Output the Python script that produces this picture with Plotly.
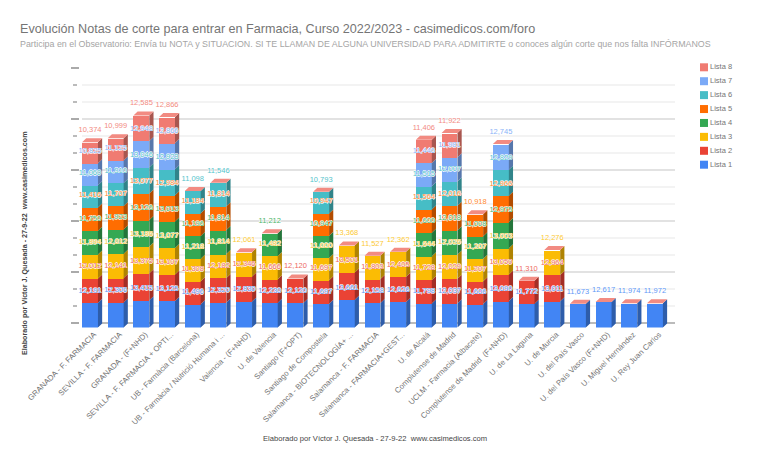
import plotly.graph_objects as go

categories = ["GRANADA - F. FARMACIA", "SEVILLA - F. FARMACIA", "GRANADA - (F+NHD)", "SEVILLA - F. FARMACIA + OPTI...",
              "UB - Farmàcia (Barcelona)", "UB - Farmàcia / Nutrició Humana i ...", "Valencia - (F+NHD)", "U. de Valencia",
              "Santiago (F+OPT)", "Santiago de Compostela", "Salamanca - BIOTECNOLOGÍA+ ...", "Salamanca - F. FARMACIA",
              "Salamanca - FARMACIA+GEST...", "U. de Alcalá", "Complutense de Madrid", "UCLM - Farmacia (Albacete)",
              "Complutense de Madrid  (F+NHD)", "U. de La Laguna", "U. de Murcia", "U. del País Vasco",
              "U. del País Vasco (F+NHD)", "U. Miguel Hernández", "U. Rey Juan Carlos"]
lista1 = [12191, 12306, 13415, 13125, 11496, 12320, 12830, 12230, 12120, 11697, 13661, 12158, 12626, 11798, 12037, 11606, 13090, 11772, 13011, 11673, 12617, 11974, 11972]
lista2 = [12012, 12141, 13375, 13107, 11308, 12182, 12346, 11666, 12120, 11697, 13501, 11803, 12405, 11728, 12029, 11207, 13050, 11310, 12964, None, None, None, None]
lista3 = [11894, 12012, 13186, 13077, 11218, 11814, 12061, 11482, None, 11000, 13368, 11527, 12362, 11644, 12026, 11207, 13003, None, 12276, None, None, None, None]
lista4 = [11750, 11923, 13126, 13013, 11196, 11814, None, 11212, None, 10947, None, None, None, 11600, 12018, 11008, 12975, None, None, None, None, None, None]
lista5 = [11416, 11707, 13077, 12984, 11184, 11814, None, None, None, 10947, None, None, None, 11564, 12016, 10918, 12966, None, None, None, None, None, None]
lista6 = [11060, 11310, 13046, 12923, 11098, 11546, None, None, None, 10793, None, None, None, 11515, 12007, None, 12829, None, None, None, None, None, None]
lista7 = [10825, 11125, 12948, 12866, None, None, None, None, None, None, None, None, None, 11446, 11981, None, 12745, None, None, None, None, None, None]
lista8 = [10374, 10999, 12585, 12866, None, None, None, None, None, None, None, None, None, 11406, 11922, None, None, None, None, None, None, None, None]
series_values = [lista1, lista2, lista3, lista4, lista5, lista6, lista7, lista8]
series_names = ["Lista 1", "Lista 2", "Lista 3", "Lista 4", "Lista 5", "Lista 6", "Lista 7", "Lista 8"]
colors = ["#4285F4", "#EA4335", "#FBBC04", "#34A853", "#FF6D01", "#46BDC6", "#7BAAF7", "#F07B72"]
side_colors = ["#2E5DAA", "#A32E25", "#AF8302", "#24753A", "#B24C00", "#31848A", "#5677AC", "#A8564F"]
label_colors = ["#5E97F6", "#EE6A5F", "#FCC934", "#4DB56C", "#FF8A33", "#55C4CC", "#8AB4F8", "#F28B82"]
title = "Evolución Notas de corte para entrar en Farmacia, Curso 2022/2023 - casimedicos.com/foro"
subtitle = "Participa en el Observatorio: Envía tu NOTA y SITUACION. SI TE LLAMAN DE ALGUNA UNIVERSIDAD PARA ADMITIRTE o conoces algún corte que nos falta INFÓRMANOS"
axis_note = "Elaborado por Víctor J. Quesada - 27-9-22  www.casimedicos.com"

W, H = 768, 466
FONT = "Liberation Sans, Arial, sans-serif"
YMAX = 125000
px_x = 25.68
px_y = 253 / YMAX
BAR = 0.62
dx = 4.2 / px_x
dy = 4 / px_y
lab_up = 12 / px_y
xs = list(range(len(categories)))
x_lo, x_hi = (82 - 90) / px_x, (675 - 90) / px_x

fig = go.Figure()
floor_drop = -8 / (255 / YMAX)
floor_shift = 5 / px_x
fig.add_scatter(x=[x_lo, x_hi, x_hi - floor_shift, x_lo - floor_shift, x_lo], y=[0, 0, floor_drop, floor_drop, 0],
                mode="lines", fill="toself", fillcolor="#EEEEEE", line=dict(width=0), cliponaxis=False,
                xaxis="x", yaxis="y", showlegend=False, hoverinfo="skip")
for ya in ("y4", "y5"):
    fig.add_scatter(x=[0, 1], y=[0, YMAX], mode="lines", line=dict(width=0), opacity=0,
                    xaxis="x", yaxis=ya, showlegend=False, hoverinfo="skip")

stack = [0] * len(xs)
for s, vals in enumerate(series_values):
    X = [x for x, v in zip(xs, vals) if v is not None]
    V = [v for v in vals if v is not None]
    base = [stack[x] for x in X]
    fig.add_bar(x=X, y=V, base=base, width=BAR, marker=dict(color=colors[s], line=dict(width=0)),
                name=series_names[s], xaxis="x", yaxis="y2", showlegend=False, hoverinfo="skip")
    sx, sy = [], []
    for x, v, b in zip(X, V, base):
        r = x + BAR / 2
        sx += [r, r + dx, r + dx, r, r, None]
        sy += [b, b + dy, b + v + dy, b + v, b, None]
        stack[x] = b + v
    fig.add_scatter(x=sx, y=sy, mode="lines", fill="toself", fillcolor=side_colors[s], line=dict(width=0),
                    xaxis="x", yaxis="y2", showlegend=False, hoverinfo="skip")
tx, ty = [], []
for x, top in zip(xs, stack):
    l, r = x - BAR / 2, x + BAR / 2
    tx += [l, l + dx, r + dx, r, l, None]
    ty += [top, top + dy, top + dy, top, top, None]
fig.add_scatter(x=tx, y=ty, mode="lines", fill="toself", fillcolor="#F28B82", line=dict(width=0),
                xaxis="x", yaxis="y2", showlegend=False, hoverinfo="skip")
stack = [0] * len(xs)
halo = "0.6px 0 0 #fff, -0.6px 0 0 #fff, 0 0.6px 0 #fff, 0 -0.6px 0 #fff"
for s, vals in enumerate(series_values):
    X, Y, T = [], [], []
    for x, v in zip(xs, vals):
        if v is None:
            continue
        stack[x] += v
        X.append(x); Y.append(stack[x] + lab_up); T.append(f"{v:,}")
    fig.add_scatter(x=X, y=Y, text=T, mode="text", textposition="middle center", cliponaxis=False,
                    textfont=dict(family=FONT, size=7.5, color=label_colors[s], shadow=halo),
                    xaxis="x", yaxis="y2", showlegend=False, hoverinfo="skip")
fig.add_scatter(x=[0] * 8, y=list(range(8)), text=series_names, mode="markers+text", textposition="middle right",
                marker=dict(symbol="square", size=8, color=colors), cliponaxis=False,
                textfont=dict(family=FONT, size=7.5, color="#757575"),
                xaxis="x2", yaxis="y3", showlegend=False, hoverinfo="skip")

fig.update_layout(
    width=W, height=H, autosize=False, margin=dict(l=0, r=0, t=0, b=0),
    paper_bgcolor="white", plot_bgcolor="rgba(0,0,0,0)", barmode="overlay", bargap=0,
    title=dict(text=title, x=20 / W, xanchor="left", xref="paper", y=1 - 29 / H, yanchor="middle", yref="paper",
               font=dict(family=FONT, size=12.6, color="#757575")),
    xaxis=dict(domain=[82 / W, 675 / W], range=[x_lo, x_hi], anchor="y2", tickmode="array",
               tickvals=xs, ticktext=categories, tickangle=-45, ticklen=0, showgrid=False, zeroline=False,
               showline=False, ticklabelshift=4, tickfont=dict(family=FONT, size=7.8, color="#757575"), automargin=False),
    yaxis=dict(domain=[(H - 322.5) / H, (H - 67.5) / H], range=[0, YMAX], tick0=0, dtick=25000, anchor="x",
               showticklabels=False, ticks="",
               gridcolor="#E2E2E2", gridwidth=1.5, zeroline=True, zerolinecolor="#BBBBBB", zerolinewidth=2,
               showline=False,
               minor=dict(dtick=25000 / 3, tick0=0, showgrid=True, gridcolor="#F3F3F3", gridwidth=1.5, ticks=""),
               automargin=False),
    yaxis2=dict(domain=[(H - 327.5) / H, (H - 74.5) / H], range=[0, YMAX], anchor="free", position=0, visible=False),
    yaxis4=dict(overlaying="y", range=[0, YMAX], anchor="free", position=77 / W, tick0=0, dtick=25000 / 3,
                showticklabels=False, showgrid=False, zeroline=False, showline=False,
                ticks="outside", ticklen=4, tickcolor="#BBBBBB", tickwidth=1.5),
    yaxis5=dict(overlaying="y", range=[0, YMAX], anchor="free", position=79 / W, tick0=0, dtick=25000,
                showticklabels=False, showgrid=False, zeroline=False, showline=False,
                ticks="outside", ticklen=8, tickcolor="#AAAAAA", tickwidth=1.5),
    xaxis2=dict(domain=[704 / W, 760 / W], range=[0, 1], anchor="y3", visible=False),
    yaxis3=dict(domain=[(H - 164.7) / H, (H - 67.3) / H], range=[0, 7], anchor="x2", visible=False),
    annotations=[
        dict(text=subtitle, x=18 / W, y=1 - 44 / H, xref="paper", yref="paper", xanchor="left", yanchor="middle", showarrow=False,
             font=dict(family=FONT, size=8.87, color="#A5A5A5")),
        dict(text=axis_note, x=375 / W, y=1 - 438 / H, xref="paper", yref="paper", xanchor="center", yanchor="middle", showarrow=False,
             font=dict(family=FONT, size=7.6, color="#444444")),
        dict(text="<b>" + axis_note + "</b>", x=25 / W, y=1 - 243 / H, xref="paper", yref="paper", xanchor="center", yanchor="middle",
             showarrow=False, textangle=-90, font=dict(family=FONT, size=7.15, color="#444444")),
    ],
)
fig.write_html("out.html", post_script="document.body.style.margin='0';", config={"displayModeBar": False})
